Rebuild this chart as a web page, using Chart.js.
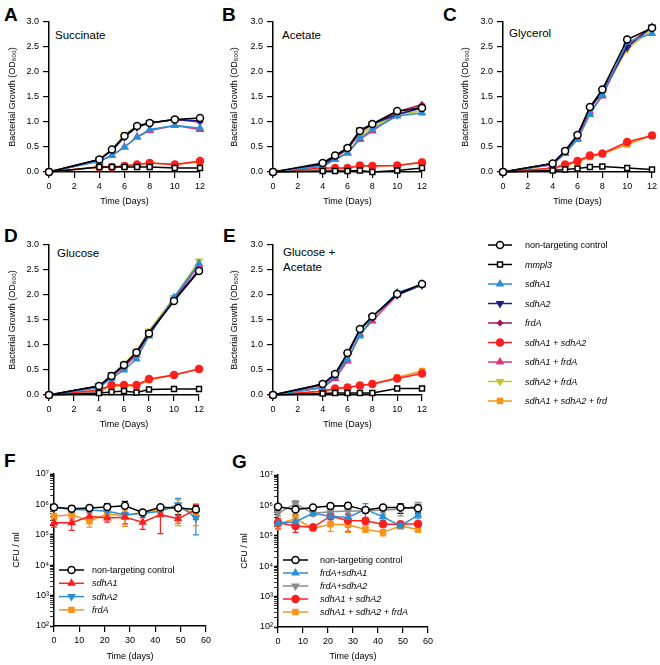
<!DOCTYPE html>
<html>
<head>
<meta charset="utf-8">
<script src="https://cdn.jsdelivr.net/npm/chart.js@4.4.0/dist/chart.umd.min.js"></script>
<style>
  body { margin: 0; background: #fff; width: 660px; height: 665px; position: relative; overflow: hidden; font-family: "Liberation Sans", Arial, sans-serif; }
  canvas { position: absolute; }
  .lab { position: absolute; line-height: 1; white-space: nowrap; color: #000; }
  .big { font-size: 19px; font-weight: bold; }
  .in { font-size: 11.5px; }
</style>
</head>
<body>
<div class="lab big" style="left:4px;top:4.5px">A</div>
<div class="lab big" style="left:222px;top:4.5px">B</div>
<div class="lab big" style="left:443px;top:4.5px">C</div>
<div class="lab big" style="left:4px;top:225.5px">D</div>
<div class="lab big" style="left:223px;top:225.5px">E</div>
<div class="lab big" style="left:4px;top:450.5px">F</div>
<div class="lab big" style="left:232px;top:451.5px">G</div>
<div class="lab in" style="left:55px;top:29.5px">Succinate</div>
<div class="lab in" style="left:282px;top:29.5px">Acetate</div>
<div class="lab in" style="left:509px;top:27.5px">Glycerol</div>
<div class="lab in" style="left:57px;top:247.5px">Glucose</div>
<div class="lab in" style="left:283px;top:246.5px">Glucose +</div>
<div class="lab in" style="left:283px;top:261.5px">Acetate</div>

<canvas id="cA" width="210" height="210" style="left:0;top:0"></canvas>
<canvas id="cB" width="210" height="210" style="left:220px;top:0"></canvas>
<canvas id="cC" width="220" height="210" style="left:440px;top:0"></canvas>
<canvas id="cD" width="210" height="223" style="left:0;top:210px"></canvas>
<canvas id="cE" width="210" height="223" style="left:220px;top:210px"></canvas>
<canvas id="cL" width="220" height="185" style="left:440px;top:230px"></canvas>
<canvas id="cF" width="216" height="225" style="left:0;top:440px"></canvas>
<canvas id="cG" width="216" height="225" style="left:224px;top:440px"></canvas>

<script>
// growth curves, OD600 vs time (days)
const days = [0, 4, 5, 6, 7, 8, 10, 12];
const strains = ['non-targeting control', 'mmpl3', 'sdhA1', 'sdhA2', 'frdA',
  'sdhA1 + sdhA2', 'sdhA1 + frdA', 'sdhA2 + frdA', 'sdhA1 + sdhA2 + frd'];

// one row per strain, same order as strains
const succinate = [
  [0, 0.25, 0.45, 0.72, 0.92, 0.98, 1.05, 1.08],
  [0, 0.10, 0.10, 0.10, 0.10, 0.10, 0.08, 0.08],
  [0, 0.22, 0.33, 0.50, 0.70, 0.85, 0.93, 0.88],
  [0, 0.25, 0.43, 0.70, 0.90, 0.98, 1.05, 1.02],
  [0, 0.25, 0.43, 0.70, 0.90, 0.98, 1.05, 1.00],
  [0, 0.10, 0.10, 0.12, 0.15, 0.18, 0.15, 0.22],
  [0, 0.22, 0.33, 0.50, 0.70, 0.83, 0.93, 0.85],
  [0, 0.25, 0.45, 0.75, 0.93, 0.98, 1.05, 1.02],
  [0, 0.10, 0.10, 0.12, 0.15, 0.18, 0.15, 0.20]
];
const acetate = [
  [0, 0.18, 0.33, 0.48, 0.82, 0.96, 1.22, 1.28],
  [0, 0.02, 0.02, 0.02, 0.03, 0.00, 0.03, 0.08],
  [0, 0.12, 0.25, 0.38, 0.68, 0.85, 1.12, 1.18],
  [0, 0.15, 0.30, 0.48, 0.84, 0.96, 1.15, 1.28],
  [0, 0.15, 0.30, 0.45, 0.80, 0.95, 1.20, 1.35],
  [0, 0.08, 0.08, 0.08, 0.13, 0.12, 0.13, 0.19],
  [0, 0.12, 0.25, 0.38, 0.65, 0.82, 1.15, 1.32],
  [0, 0.15, 0.30, 0.45, 0.75, 0.90, 1.15, 1.22],
  [0, 0.06, 0.06, 0.07, 0.12, 0.12, 0.13, 0.20]
];
const glycerol = [
  [0, 0.17, 0.42, 0.74, 1.30, 1.65, 2.65, 2.88],
  [0, 0.03, 0.05, 0.07, 0.10, 0.11, 0.08, 0.05],
  [0, 0.15, 0.37, 0.65, 1.15, 1.55, 2.60, 2.77],
  [0, 0.17, 0.42, 0.74, 1.28, 1.62, 2.50, 2.90],
  [0, 0.17, 0.42, 0.74, 1.28, 1.60, 2.50, 2.90],
  [0, 0.08, 0.15, 0.22, 0.33, 0.37, 0.60, 0.73],
  [0, 0.15, 0.38, 0.68, 1.20, 1.52, 2.55, 2.90],
  [0, 0.17, 0.40, 0.72, 1.28, 1.58, 2.45, 2.85],
  [0, 0.06, 0.13, 0.20, 0.30, 0.36, 0.55, 0.73]
];
const glucose = [
  [0, 0.18, 0.38, 0.60, 0.85, 1.23, 1.88, 2.48],
  [0, 0.04, 0.06, 0.08, 0.05, 0.11, 0.12, 0.12],
  [0, 0.15, 0.33, 0.50, 0.72, 1.18, 1.95, 2.63],
  [0, 0.18, 0.40, 0.60, 0.85, 1.25, 1.90, 2.50],
  [0, 0.18, 0.38, 0.60, 0.85, 1.25, 1.90, 2.50],
  [0, 0.10, 0.20, 0.20, 0.20, 0.32, 0.40, 0.52],
  [0, 0.16, 0.36, 0.55, 0.80, 1.22, 1.92, 2.60],
  [0, 0.18, 0.40, 0.62, 0.88, 1.28, 1.95, 2.68],
  [0, 0.08, 0.18, 0.18, 0.18, 0.30, 0.40, 0.52]
];
const glucoseAcetate = [
  [0, 0.22, 0.42, 0.84, 1.32, 1.57, 2.02, 2.22],
  [0, 0.03, 0.04, 0.04, 0.04, 0.04, 0.13, 0.13],
  [0, 0.15, 0.38, 0.72, 1.18, 1.55, 2.05, 2.20],
  [0, 0.22, 0.42, 0.80, 1.30, 1.57, 2.00, 2.20],
  [0, 0.20, 0.40, 0.80, 1.30, 1.57, 2.00, 2.22],
  [0, 0.08, 0.13, 0.15, 0.19, 0.22, 0.33, 0.43],
  [0, 0.15, 0.33, 0.68, 1.22, 1.48, 2.00, 2.22],
  [0, 0.20, 0.40, 0.80, 1.30, 1.55, 2.02, 2.22],
  [0, 0.07, 0.12, 0.15, 0.19, 0.22, 0.35, 0.48]
];

// survival, CFU/ml vs time (days)
const cfuDays = [0, 7, 14, 21, 28, 35, 42, 49, 56];
const fLabels = ['non-targeting control', 'sdhA1', 'sdhA2', 'frdA'];
const fValues = [
  [8.0e5, 7.2e5, 7.6e5, 8.2e5, 9.0e5, 5.4e5, 8.0e5, 7.6e5, 6.8e5],
  [2.5e5, 2.5e5, 4.1e5, 3.6e5, 3.8e5, 2.6e5, 4.6e5, 3.4e5, 6.7e5],
  [8.0e5, 6.8e5, 6.6e5, 5.9e5, 4.6e5, 5.0e5, 6.0e5, 9.8e5, 3.6e5],
  [4.1e5, 4.6e5, 2.8e5, 4.8e5, 4.2e5, 5.6e5, 6.5e5, 8.0e5, 5.0e5]
];
const fErrors = [
  [1.5e5, 2.0e5, 1.5e5, 2.5e5, 3.5e5, 1.0e5, 1.0e5, 3.0e5, 2.5e5],
  [7.0e4, 1.1e5, 1.2e5, 1.0e5, 1.5e5, 1.1e5, 3.5e5, 1.0e5, 3.5e5],
  [1.0e5, 1.0e5, 8.0e4, 8.0e4, 8.0e4, 8.0e4, 1.0e5, 6.0e5, 2.6e5],
  [1.0e5, 1.5e5, 1.0e5, 8.0e4, 2.3e5, 1.0e5, 8.0e4, 6.0e5, 3.0e5]
];
const gLabels = ['non-targeting control', 'frdA+sdhA1', 'frdA+sdhA2', 'sdhA1 + sdhA2', 'sdhA1 + sdhA2 + frdA'];
const gValues = [
  [9.0e5, 7.4e5, 8.6e5, 9.5e5, 9.8e5, 7.0e5, 8.5e5, 8.5e5, 8.0e5],
  [2.6e5, 2.9e5, 5.5e5, 4.4e5, 4.0e5, 7.4e5, 4.2e5, 2.1e5, 4.8e5],
  [5.5e5, 1.15e6, 5.5e5, 6.2e5, 6.5e5, 6.5e5, 7.0e5, 7.5e5, 9.5e5],
  [2.7e5, 2.1e5, 1.9e5, 4.4e5, 3.2e5, 3.1e5, 2.4e5, 2.4e5, 2.5e5],
  [2.4e5, 3.7e5, 1.75e5, 2.4e5, 2.3e5, 1.6e5, 1.3e5, 2.1e5, 1.6e5]
];
const gErrors = [
  [1.0e5, 2.5e5, 1.0e5, 1.5e5, 2.5e5, 1.0e5, 1.0e5, 3.0e5, 2.5e5],
  [4.0e4, 5.0e4, 1.0e5, 1.0e5, 1.0e5, 4.0e5, 1.0e5, 4.0e4, 1.0e5],
  [1.0e5, 3.0e5, 1.0e5, 1.0e5, 1.0e5, 1.0e5, 1.0e5, 3.0e5, 3.0e5],
  [1.0e5, 8.0e4, 3.0e4, 1.5e5, 1.8e5, 8.0e4, 4.0e4, 3.0e4, 3.0e4],
  [8.0e4, 1.5e5, 3.0e4, 1.0e5, 1.0e5, 3.0e4, 3.0e4, 3.0e4, 3.0e4]
];

const FONT = '"Liberation Sans", Arial, sans-serif';
const BLUE = '#2a8fd4', RED = '#ff1f1f', ORANGE = '#f7941d';

// marker / line styles
const open = (shape) => ({ color: '#000', fill: '#fff', shape: shape, r: 3.5, rot: 0 });
const growthStyles = [
  open('circle'),
  open('rect'),
  { color: BLUE, fill: BLUE, shape: 'triangle', r: 3.5, rot: 0 },
  { color: '#1c1c8a', fill: '#1c1c8a', shape: 'triangle', r: 3.5, rot: 180 },
  { color: '#a3195b', fill: '#a3195b', shape: 'rectRot', r: 2.5, rot: 0 },
  { color: RED, fill: RED, shape: 'circle', r: 3.5, rot: 0 },
  { color: '#e0307a', fill: '#e0307a', shape: 'triangle', r: 3.5, rot: 0 },
  { color: '#c4c42a', fill: '#c4c42a', shape: 'triangle', r: 3.5, rot: 180 },
  { color: ORANGE, fill: ORANGE, shape: 'rect', r: 3.5, rot: 0 }
];
const fStyles = [growthStyles[0],
  { color: RED, fill: RED, shape: 'triangle', r: 3.5, rot: 0 },
  { color: BLUE, fill: BLUE, shape: 'triangle', r: 3.5, rot: 180 },
  { color: ORANGE, fill: ORANGE, shape: 'rect', r: 3.5, rot: 0 }];
const gStyles = [growthStyles[0],
  { color: BLUE, fill: BLUE, shape: 'triangle', r: 3.5, rot: 0 },
  { color: '#8c8c8c', fill: '#8c8c8c', shape: 'triangle', r: 3.5, rot: 180 },
  { color: RED, fill: RED, shape: 'circle', r: 3.5, rot: 0 },
  { color: ORANGE, fill: ORANGE, shape: 'rect', r: 3.5, rot: 0 }];

function dataset(label, st, xs, ys, errs) {
  return {
    label: label,
    data: ys ? xs.map((x, j) => ({ x: x, y: ys[j] })) : [],
    errors: errs,
    borderColor: st.color, backgroundColor: st.fill,
    borderWidth: 1.5, tension: 0, clip: false,
    pointStyle: st.shape, pointRadius: st.r, pointRotation: st.rot,
    pointBorderWidth: 1.5, pointBackgroundColor: st.fill, pointBorderColor: st.color
  };
}

// error bars, drawn under the lines
Chart.register({
  id: 'errBars',
  beforeDatasetsDraw(chart) {
    const ys = chart.scales.y, ctx = chart.ctx;
    chart.data.datasets.forEach((d, i) => {
      if (!d.errors) return;
      const pts = chart.getDatasetMeta(i).data;
      ctx.save();
      ctx.strokeStyle = d.borderColor;
      ctx.lineWidth = 1.2;
      pts.forEach((p, j) => {
        const v = d.data[j].y, e = d.errors[j];
        const t = ys.getPixelForValue(v + e), b = ys.getPixelForValue(v - e);
        ctx.beginPath();
        ctx.moveTo(p.x, t); ctx.lineTo(p.x, b);
        ctx.moveTo(p.x - 3, t); ctx.lineTo(p.x + 3, t);
        ctx.moveTo(p.x - 3, b); ctx.lineTo(p.x + 3, b);
        ctx.stroke();
      });
      ctx.restore();
    });
  }
});

// legend with a line through the marker, like the prism one
Chart.register({
  id: 'lineLegend',
  afterDraw(chart, args, o) {
    if (!o.show) return;
    const ctx = chart.ctx;
    chart.data.datasets.forEach((d, i) => {
      const y = o.y0 + i * o.dy;
      ctx.save();
      ctx.strokeStyle = d.borderColor;
      ctx.lineWidth = 1.5;
      ctx.beginPath(); ctx.moveTo(o.x0, y); ctx.lineTo(o.x1, y); ctx.stroke();
      ctx.fillStyle = d.pointBackgroundColor;
      ctx.strokeStyle = d.pointBorderColor;
      Chart.helpers.drawPoint(ctx, { pointStyle: d.pointStyle, radius: d.pointRadius, rotation: d.pointRotation, borderWidth: 1.5 }, (o.x0 + o.x1) / 2, y);
      const italic = d.label !== 'non-targeting control';
      ctx.font = (italic ? 'italic ' : '') + '9px ' + FONT;
      ctx.fillStyle = '#000';
      ctx.textBaseline = 'middle';
      ctx.fillText(d.label, o.tx, y + 0.5);
      ctx.restore();
    });
  }
});

const tickFont = { family: FONT, size: 9 };
const axisGrid = (len) => ({ drawOnChartArea: false, drawTicks: true, tickLength: len, color: '#000', lineWidth: 1.2 });
const axisBorder = { display: true, color: '#000', width: 1.5 };

function growthChart(id, rows, yw, padR, padTop, titleX) {
  new Chart(document.getElementById(id), {
    type: 'line',
    data: { datasets: rows.map((r, i) => dataset(strains[i], growthStyles[i], days, r)) },
    options: {
      animation: false, responsive: false, devicePixelRatio: 1,
      layout: { padding: { left: 0, top: padTop, right: padR, bottom: 0 } },
      plugins: { legend: { display: false }, tooltip: { enabled: false } },
      scales: {
        x: {
          type: 'linear', min: 0, max: 12,
          ticks: { stepSize: 2, font: tickFont, color: '#000', padding: 3, maxRotation: 0, autoSkip: false },
          grid: axisGrid(6), border: axisBorder,
          title: { display: true, text: 'Time (Days)', font: tickFont, color: '#000', padding: { top: 0, bottom: 3 } },
          afterFit: s => { s.height = 38; }
        },
        y: {
          type: 'linear', min: 0, max: 3,
          ticks: { stepSize: 0.5, font: tickFont, color: '#000', padding: 4, callback: v => v.toFixed(1) },
          grid: axisGrid(6), border: axisBorder,
          title: { display: true, text: 'Bacterial Growth (OD₆₀₀)', font: tickFont, color: '#000', padding: { top: titleX - 5.4, bottom: 0 } },
          afterFit: s => { s.width = yw; }
        }
      }
    }
  });
}

growthChart('cA', succinate, 49, 10, 22, 13);
growthChart('cB', acetate, 53, 7, 22, 15);
growthChart('cC', glycerol, 63, 5, 22, 26);
growthChart('cD', glucose, 49, 11, 35, 13);
growthChart('cE', glucoseAcetate, 53, 7, 35, 15);

// shared legend for A-E
new Chart(document.getElementById('cL'), {
  type: 'line',
  data: { datasets: strains.map((s, i) => dataset(s, growthStyles[i], [], null)) },
  options: {
    animation: false, responsive: false, devicePixelRatio: 1,
    scales: { x: { display: false }, y: { display: false } },
    plugins: { legend: { display: false }, tooltip: { enabled: false },
      lineLegend: { show: true, x0: 48, x1: 72, tx: 85, y0: 15, dy: 19.5 } }
  }
});

const SUP = '⁰¹²³⁴⁵⁶⁷⁸⁹';
const isDecade = v => Math.abs(Math.log10(v) - Math.round(Math.log10(v))) < 1e-9;

function cfuChart(id, labels, styles, values, errors, yw, padR, padTop, xh, titleX, leg) {
  new Chart(document.getElementById(id), {
    type: 'line',
    data: { datasets: values.map((r, i) => dataset(labels[i], styles[i], cfuDays, r, errors[i])) },
    options: {
      animation: false, responsive: false, devicePixelRatio: 1,
      layout: { padding: { left: 0, top: padTop, right: padR, bottom: 0 } },
      plugins: { legend: { display: false }, tooltip: { enabled: false }, lineLegend: leg },
      scales: {
        x: {
          type: 'linear', min: 0, max: 60,
          ticks: { stepSize: 10, font: tickFont, color: '#000', padding: 3, maxRotation: 0, autoSkip: false },
          grid: axisGrid(6), border: axisBorder,
          title: { display: true, text: 'Time (days)', font: tickFont, color: '#000', padding: { top: 0, bottom: 3 } },
          afterFit: s => { s.height = xh; }
        },
        y: {
          type: 'logarithmic', min: 100, max: 1e7,
          afterBuildTicks: s => {
            const t = [];
            for (let e = 2; e < 7; e++) for (let m = 1; m < 10; m++) t.push({ value: m * Math.pow(10, e) });
            t.push({ value: 1e7 });
            s.ticks = t;
          },
          ticks: { font: tickFont, color: '#000', padding: 1, autoSkip: false,
            callback: v => isDecade(v) ? '10' + SUP[Math.round(Math.log10(v))] : '' },
          grid: { drawOnChartArea: false, drawTicks: true, tickLength: 4, color: '#000',
            tickWidth: c => (c.tick && isDecade(c.tick.value)) ? 1.5 : 0.8 },
          border: axisBorder,
          title: { display: true, text: 'CFU / ml', font: tickFont, color: '#000', padding: { top: titleX - 5.4, bottom: 0 } },
          afterFit: s => { s.width = yw; }
        }
      }
    }
  });
}

cfuChart('cF', fLabels, fStyles, fValues, fErrors, 54, 10, 34, 39, 17,
  { show: true, x0: 59, x1: 84, tx: 92, y0: 130, dy: 13.3 });
cfuChart('cG', gLabels, gStyles, gValues, gErrors, 54, 12, 35, 38, 21,
  { show: true, x0: 59, x1: 84, tx: 96, y0: 120, dy: 13 });
</script>
</body>
</html>
